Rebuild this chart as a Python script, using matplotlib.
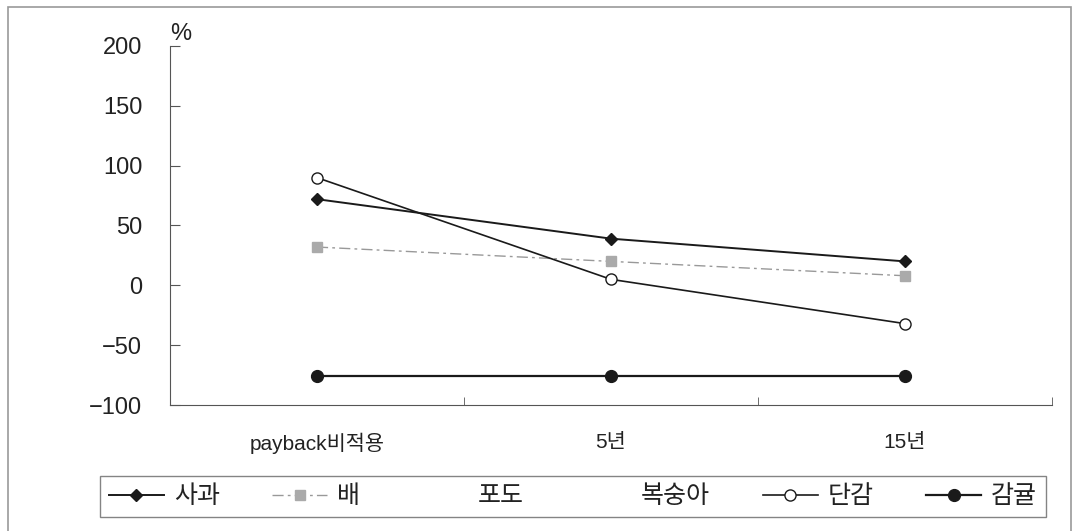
import matplotlib.pyplot as plt
from matplotlib.lines import Line2D
from matplotlib.patches import Rectangle

plt.rcParams['font.family'] = ['Liberation Sans', 'Noto Sans CJK KR']

categories = ['payback비적용', '5년', '15년']
apple = [72, 39, 20]       # 사과
pear = [32, 20, 8]         # 배
persimmon = [90, 5, -32]   # 단감
citrus = [-76, -76, -76]   # 감귤
yticks = [-100, -50, 0, 50, 100, 150, 200]

fig = plt.figure(figsize=(10.74, 5.31), dpi=100)
ax = fig.add_axes([170/1074, 1 - 405/531, 882/1074, 359/531])

x = list(range(len(categories)))
ax.plot(x, apple, color='#1a1a1a', lw=1.4, marker='D', ms=6, label='사과')
ax.plot(x, pear, color='#999999', lw=1.0, ls=(0, (8, 3, 2, 3)), marker='s', ms=7,
        mfc='#aaaaaa', mec='#aaaaaa', label='배')
ax.plot(x, persimmon, color='#1a1a1a', lw=1.2, marker='o', ms=8, mfc='white', mec='#1a1a1a',
        label='단감')
ax.plot(x, citrus, color='#1a1a1a', lw=1.6, marker='o', ms=8.5, label='감귤')

ax.set_xlim(-0.5, len(categories) - 0.5)
ax.set_ylim(-100, 200)
ax.set_yticks(yticks)
ax.set_xticks(x)
ax.set_xticklabels(categories, fontsize=15, color='#222222')
ax.set_xticks([i - 0.5 for i in range(len(categories) + 1)], minor=True)
ax.tick_params(axis='x', which='major', length=0, pad=20)
ax.tick_params(axis='x', which='minor', direction='in', length=6, color='#555555')
ax.tick_params(axis='y', direction='in', length=7, pad=20, labelsize=17, color='#555555',
               labelcolor='#222222')
for s in ['top', 'right']:
    ax.spines[s].set_visible(False)
for s in ['left', 'bottom']:
    ax.spines[s].set_color('#555555')
fig.text(170/1074, 1 - 34/531, '%', fontsize=17, color='#222222', ha='left', va='center')

# legend: 포도, 복숭아 have no visible line
blank = Line2D([], [], color='none')
h, l = ax.get_legend_handles_labels()
handles = [h[0], h[1], blank, blank, h[2], h[3]]
labels = ['사과', '배', '포도', '복숭아', '단감', '감귤']
leg = fig.legend(handles, labels, ncol=6, mode='expand',
                 bbox_to_anchor=(100/1074, 1 - 517/531, 946/1074, 46/531),
                 loc='lower left', fontsize=18, handlelength=2.2, handletextpad=0.4,
                 fancybox=False, frameon=True, borderaxespad=0, borderpad=0.35)
leg.get_frame().set_edgecolor('#666666')
leg.get_frame().set_linewidth(1.0)
for t in leg.get_texts():
    t.set_color('#222222')

fig.patches.append(Rectangle((8/1074, -0.01), 1063/1074, 1 - 7/531 + 0.01,
                             transform=fig.transFigure, fill=False, ec='#999999', lw=1.2))

fig.savefig('out.png', dpi=100)
